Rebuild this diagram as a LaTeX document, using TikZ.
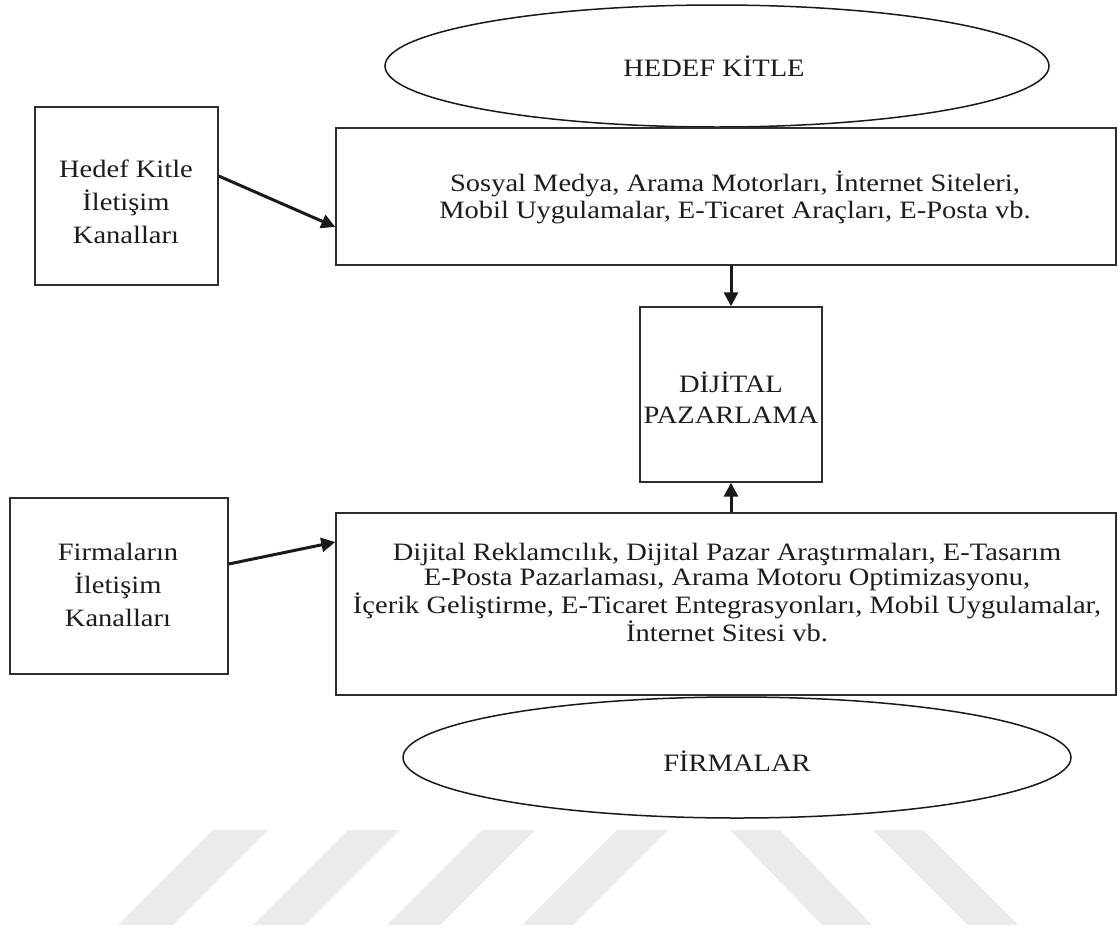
\documentclass[tikz,border=0pt]{standalone}
\usepackage{fontspec}
\setmainfont{Liberation Serif}
\usepackage{graphicx}
\usetikzlibrary{arrows.meta,shapes.geometric}

% wide serif text block: #1 = line spacing, #2 = lines
\newcommand{\widetxt}[2]{\scalebox{1.14}[1]{\fontsize{25}{#1}\selectfont\begin{tabular}{@{}c@{}}#2\end{tabular}}}

\definecolor{linec}{HTML}{2E2E2E}
\definecolor{textc}{HTML}{1C1C1C}
\definecolor{markc}{HTML}{EBEBEB}

\tikzset{
  box/.style={draw=linec, line width=1.4pt, inner sep=0pt, fill=none},
  oval/.style={ellipse, draw=black!90, line width=1.5pt, inner sep=0pt},
  txt/.style={inner sep=0pt, text=textc},
  arr/.style={draw=black!90, line width=3pt, -{Triangle[length=14pt,width=14pt]}},
  stripe/.style={fill=markc}
}

\begin{document}
\begin{tikzpicture}[x=1pt,y=-1pt]
  \useasboundingbox (0,0) rectangle (1118,929);
  \fill[white] (0,0) rectangle (1118,929);

  % light diagonal bands along the bottom
  \fill[stripe] (213,830) -- (268,830) -- (173,925) -- (118,925) -- cycle;
  \fill[stripe] (348,830) -- (400,830) -- (305,925) -- (253,925) -- cycle;
  \fill[stripe] (482,830) -- (535,830) -- (440,925) -- (387,925) -- cycle;
  \fill[stripe] (617,830) -- (668,830) -- (573,925) -- (522,925) -- cycle;
  \fill[stripe] (730,830) -- (780,830) -- (872,925) -- (822,925) -- cycle;
  \fill[stripe] (873,830) -- (923,830) -- (1018,925) -- (968,925) -- cycle;

  % ovals
  \node[oval, minimum width=664pt, minimum height=122pt] (hk) at (717,66) {};
  \node[txt] (hkt) at (714,70) {\widetxt{28}{HEDEF KİTLE}};

  \node[oval, minimum width=668pt, minimum height=121pt] (fi) at (737,757.5) {};
  \node[txt] (fit) at (737,765) {\widetxt{28}{FİRMALAR}};

  % boxes
  \node[box, minimum width=183pt, minimum height=178pt] (kc) at (126.5,196) {};
  \node[txt] (kct) at (126,204) {\widetxt{33}{Hedef Kitle\\İletişim\\Kanalları}};

  \node[box, minimum width=780pt, minimum height=137pt] (tb) at (726,196.5) {};
  \node[txt] (tbt) at (735,199) {\widetxt{27}{Sosyal Medya, Arama Motorları, İnternet Siteleri,\\Mobil Uygulamalar, E-Ticaret Araçları, E-Posta vb.}};

  \node[box, minimum width=182pt, minimum height=175pt] (dp) at (731,394.5) {};
  \node[txt] (dpt) at (731,402) {\widetxt{31}{DİJİTAL\\PAZARLAMA}};

  \node[box, minimum width=218pt, minimum height=176pt] (fc) at (119,586) {};
  \node[txt] (fct) at (118,587) {\widetxt{33}{Firmaların\\İletişim\\Kanalları}};

  \node[box, minimum width=780pt, minimum height=182pt] (bb) at (726,604) {};
  \node[txt] (bbt) at (727,596) {\widetxt{25}{Dijital Reklamcılık, Dijital Pazar Araştırmaları, E-Tasarım\\E-Posta Pazarlaması, Arama Motoru Optimizasyonu,\\İçerik Geliştirme, E-Ticaret Entegrasyonları, Mobil Uygulamalar,\\İnternet Sitesi vb.}};

  % connectors
  \draw[arr] ([yshift=20pt]kc.east) -- ([yshift=-30.5pt]tb.west);
  \draw[arr] (dp.north |- tb.south) -- (dp.north);
  \draw[arr] (dp.south |- bb.north) -- (dp.south);
  \draw[arr] ([yshift=22pt]fc.east) -- ([yshift=62pt]bb.west);
\end{tikzpicture}
\end{document}
